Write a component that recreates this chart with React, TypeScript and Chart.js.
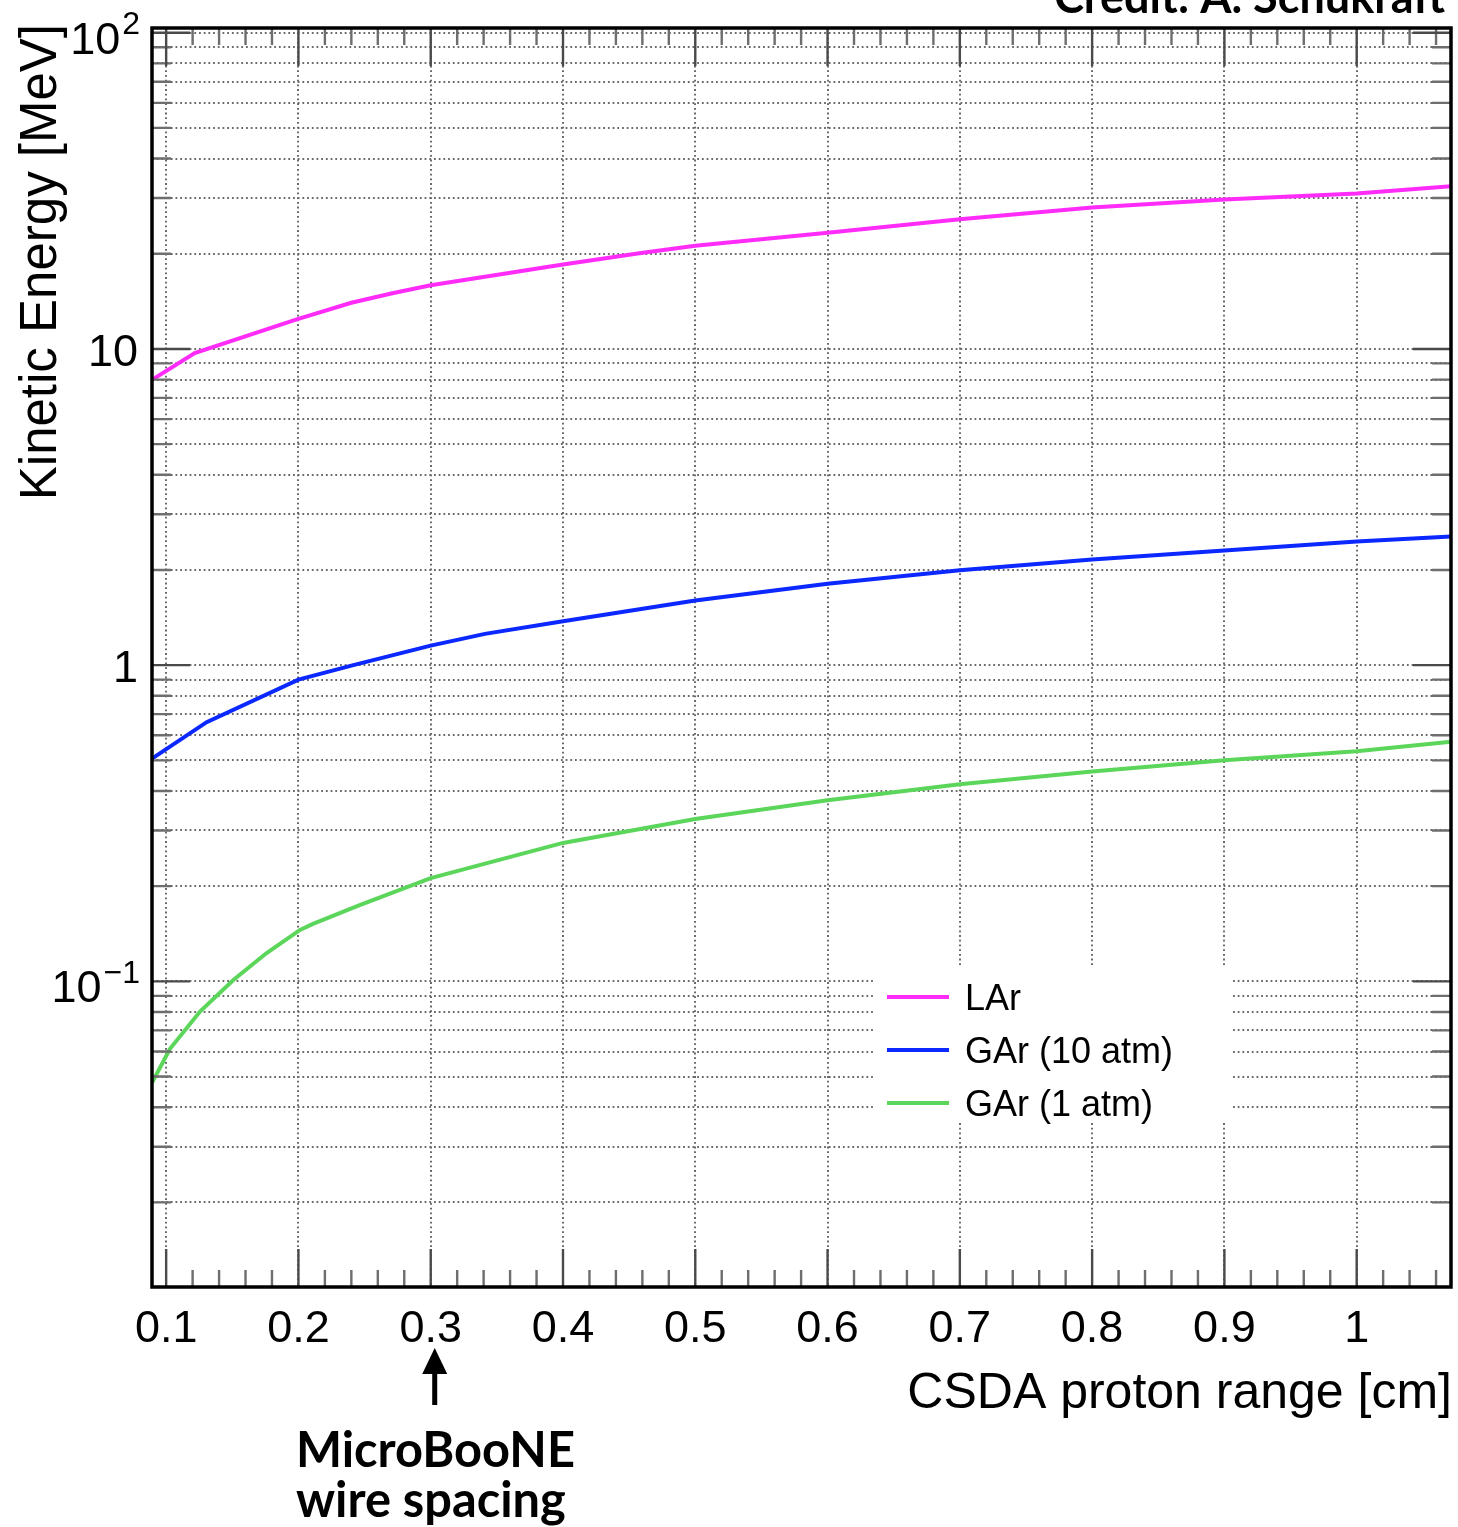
import React, { useEffect, useRef } from 'react';
import { Chart, registerables } from 'chart.js';

Chart.register(...registerables);

// ---------- data ----------
const larRange = [0.0893, 0.1216, 0.1987, 0.24, 0.271, 0.3, 0.4, 0.459, 0.5, 0.6, 0.7, 0.8, 0.9, 1.0, 1.0713];
const larEnergy = [7.98, 9.7, 12.4, 14.0, 15.0, 15.9, 18.5, 20.1, 21.2, 23.3, 25.7, 28.0, 29.7, 31.0, 32.7];

const gar10Range = [0.0893, 0.1306, 0.2, 0.2415, 0.3, 0.341, 0.4, 0.5, 0.6, 0.7, 0.8, 0.9, 1.0, 1.0713];
const gar10Energy = [0.506, 0.66, 0.9, 1.0, 1.153, 1.256, 1.377, 1.6, 1.81, 1.995, 2.157, 2.305, 2.46, 2.55];

const gar1Range = [0.0893, 0.1029, 0.1256, 0.1508, 0.1757, 0.2012, 0.211, 0.2458, 0.3, 0.4, 0.5, 0.6, 0.7, 0.8, 0.9, 1.0, 1.0713];
const gar1Energy = [0.0478, 0.0612, 0.0803, 0.101, 0.1227, 0.1454, 0.152, 0.174, 0.212, 0.274, 0.326, 0.374, 0.42, 0.461, 0.5, 0.534, 0.572];

const seriesLabels = ['LAr', 'GAr (10 atm)', 'GAr (1 atm)'];
const seriesColors = ['#ff2cf9', '#0a28ff', '#5bd65b'];

const xTickValues = [0.1, 0.2, 0.3, 0.4, 0.5, 0.6, 0.7, 0.8, 0.9, 1.0];
const xTickLabels = ['0.1', '0.2', '0.3', '0.4', '0.5', '0.6', '0.7', '0.8', '0.9', '1'];
const yDecadeValues = [0.1, 1, 10, 100];
const yLabelBase = ['10', '1', '10', '10'];
const yLabelExp = ['\u22121', '', '', '2'];

const xMin = 0.0893;
const xMax = 1.0713;
const yMin = 0.0108;
const yMax = 103.5;

const xTitle = 'CSDA proton range [cm]';
const yTitle = 'Kinetic Energy [MeV]';
const creditText = 'Credit: A. Schukraft';
const noteLines = ['MicroBooNE', 'wire spacing'];
const wireSpacing = 0.3;

// ---------- helpers ----------
const HELV = '"Liberation Sans", Arial, Helvetica, sans-serif';
const BOLD = 'Lato, "Open Sans", sans-serif';

const yGridValues: number[] = [];
[0.01, 0.1, 1, 10, 100].forEach((d) => {
  for (let m = 1; m <= 9; m++) {
    const v = m * d;
    if (v >= yMin && v <= yMax) yGridValues.push(v);
  }
});
const isDecade = (v: number) => yDecadeValues.some((d) => Math.abs(v - d) / d < 1e-6);

const xMinorValues: number[] = [];
for (let i = -5; i <= 60; i++) {
  const v = 0.1 + 0.02 * i;
  if (i % 5 !== 0 && v > xMin && v < xMax) xMinorValues.push(v);
}

const toPoints = (xs: number[], ys: number[]) => xs.map((x, i) => ({ x, y: ys[i] }));

function fitFont(ctx: CanvasRenderingContext2D, text: string, family: string, weight: string, width: number) {
  ctx.font = `${weight} 100px ${family}`;
  const w = ctx.measureText(text).width;
  return (100 * width) / w;
}

const decorPlugin = {
  id: 'decor',
  beforeDatasetsDraw(chart: any) {
    const ctx = chart.ctx as CanvasRenderingContext2D;
    ctx.save();
    ctx.fillStyle = '#ffffff';
    ctx.fillRect(875, 968, 357, 154);
    ctx.restore();
  },
  afterDraw(chart: any) {
    const ctx = chart.ctx as CanvasRenderingContext2D;
    const a = chart.chartArea;
    const xs = chart.scales.x;
    const ys = chart.scales.y;
    ctx.save();

    // inner ticks
    ctx.lineCap = 'butt';
    ctx.strokeStyle = '#6e6e6e';
    ctx.lineWidth = 2.4;
    ctx.beginPath();
    xMinorValues.forEach((v) => {
      const px = xs.getPixelForValue(v);
      ctx.moveTo(px, a.bottom);
      ctx.lineTo(px, a.bottom - 17);
      ctx.moveTo(px, a.top);
      ctx.lineTo(px, a.top + 17);
    });
    yGridValues.forEach((v) => {
      if (isDecade(v)) return;
      const py = ys.getPixelForValue(v);
      ctx.moveTo(a.left, py);
      ctx.lineTo(a.left + 19, py);
      ctx.moveTo(a.right, py);
      ctx.lineTo(a.right - 19, py);
    });
    ctx.stroke();

    ctx.strokeStyle = '#4a4a4a';
    ctx.lineWidth = 2.4;
    ctx.beginPath();
    xTickValues.forEach((v) => {
      const px = xs.getPixelForValue(v);
      ctx.moveTo(px, a.bottom);
      ctx.lineTo(px, a.bottom - 38);
      ctx.moveTo(px, a.top);
      ctx.lineTo(px, a.top + 38);
    });
    yGridValues.forEach((v) => {
      if (!isDecade(v)) return;
      const py = ys.getPixelForValue(v);
      ctx.moveTo(a.left, py);
      ctx.lineTo(a.left + 38, py);
      ctx.moveTo(a.right, py);
      ctx.lineTo(a.right - 38, py);
    });
    ctx.stroke();

    // frame
    ctx.strokeStyle = '#000';
    ctx.lineWidth = 3.5;
    ctx.strokeRect(a.left, a.top, a.right - a.left, a.bottom - a.top);

    // x tick labels
    ctx.fillStyle = '#000';
    ctx.font = `45px ${HELV}`;
    ctx.textAlign = 'center';
    ctx.textBaseline = 'alphabetic';
    xTickValues.forEach((v, i) => {
      ctx.fillText(xTickLabels[i], xs.getPixelForValue(v), a.bottom + 55);
    });

    // y tick labels (with superscripts)
    const right = a.left - 12;
    yDecadeValues.forEach((v, i) => {
      const py = ys.getPixelForValue(v);
      const exp = yLabelExp[i];
      if (exp) {
        ctx.font = `32px ${HELV}`;
        ctx.textAlign = 'right';
        ctx.fillText(exp, right, py + 1.5);
        const ew = ctx.measureText(exp).width;
        ctx.font = `45px ${HELV}`;
        ctx.fillText(yLabelBase[i], right - ew - 2, py + 21);
      } else {
        ctx.font = `45px ${HELV}`;
        ctx.textAlign = 'right';
        ctx.fillText(yLabelBase[i], right - 2, py + 17);
      }
    });

    // axis titles
    ctx.font = `50px ${HELV}`;
    ctx.textAlign = 'right';
    ctx.fillText(xTitle, 1452, 1408);
    ctx.save();
    ctx.translate(56, 24);
    ctx.rotate(-Math.PI / 2);
    ctx.textAlign = 'right';
    ctx.font = `51px ${HELV}`;
    ctx.fillText(yTitle, 0, 0);
    ctx.restore();

    // legend
    chart.data.datasets.forEach((ds: any, i: number) => {
      const ly = 997 + 53 * i;
      ctx.strokeStyle = ds.borderColor;
      ctx.lineWidth = 4;
      ctx.beginPath();
      ctx.moveTo(887, ly);
      ctx.lineTo(949, ly);
      ctx.stroke();
      ctx.fillStyle = '#000';
      ctx.font = `36px ${HELV}`;
      ctx.textAlign = 'left';
      ctx.fillText(ds.label, 965, ly + 13);
    });

    // credit
    const cs = fitFont(ctx, creditText, BOLD, 'bold', 362) * 1.08;
    ctx.font = `bold ${cs}px ${BOLD}`;
    ctx.textAlign = 'right';
    ctx.fillStyle = '#000';
    ctx.fillText(creditText, 1445, 13);

    // arrow + note
    const ax = xs.getPixelForValue(wireSpacing) + 4;
    ctx.fillStyle = '#000';
    ctx.fillRect(ax - 2.5, 1372, 5, 33);
    ctx.beginPath();
    ctx.moveTo(ax, 1348);
    ctx.lineTo(ax - 12.5, 1374);
    ctx.lineTo(ax + 12.5, 1374);
    ctx.closePath();
    ctx.fill();

    const ns = fitFont(ctx, noteLines[0], BOLD, 'bold', 279);
    ctx.font = `bold ${ns}px ${BOLD}`;
    ctx.textAlign = 'left';
    ctx.fillText(noteLines[0], 296, 1467);
    ctx.fillText(noteLines[1], 296, 1517);

    ctx.restore();
  },
};

export default function App() {
  const canvasRef = useRef<HTMLCanvasElement | null>(null);

  useEffect(() => {
    const canvas = canvasRef.current;
    if (!canvas) return;
    const series = [
      toPoints(larRange, larEnergy),
      toPoints(gar10Range, gar10Energy),
      toPoints(gar1Range, gar1Energy),
    ];
    const chart = new Chart(canvas, {
      type: 'line',
      data: {
        datasets: series.map((pts, i) => ({
          label: seriesLabels[i],
          data: pts,
          borderColor: seriesColors[i],
          backgroundColor: seriesColors[i],
          borderWidth: 4,
          pointRadius: 0,
          tension: 0,
          fill: false,
        })),
      },
      options: {
        responsive: false,
        animation: false,
        events: [],
        layout: { padding: { left: 0, top: 28, right: 7, bottom: 0 } },
        plugins: {
          legend: { display: false },
          tooltip: { enabled: false },
          title: { display: false },
        },
        scales: {
          x: {
            type: 'linear',
            min: xMin,
            max: xMax,
            afterBuildTicks: (scale: any) => {
              scale.ticks = xTickValues.map((v) => ({ value: v }));
            },
            afterFit: (scale: any) => {
              scale.height = 1527 - 1287;
            },
            ticks: { display: false },
            grid: { color: '#6a6a6a', lineWidth: 2, drawTicks: false },
            border: { display: false, dash: [1.8, 2.9] },
          },
          y: {
            type: 'logarithmic',
            min: yMin,
            max: yMax,
            afterBuildTicks: (scale: any) => {
              scale.ticks = yGridValues.map((v) => ({ value: v, major: isDecade(v) }));
            },
            afterFit: (scale: any) => {
              scale.width = 152;
            },
            ticks: { display: false },
            grid: { color: '#6a6a6a', lineWidth: 2, drawTicks: false },
            border: { display: false, dash: [1.8, 2.9] },
          },
        },
      },
      plugins: [decorPlugin],
    } as any);
    return () => chart.destroy();
  }, []);

  return (
    <div style={{ position: 'absolute', left: 0, top: 0, width: 1458, height: 1527, background: '#fff' }}>
      <canvas ref={canvasRef} width={1458} height={1527} style={{ display: 'block' }} />
    </div>
  );
}
